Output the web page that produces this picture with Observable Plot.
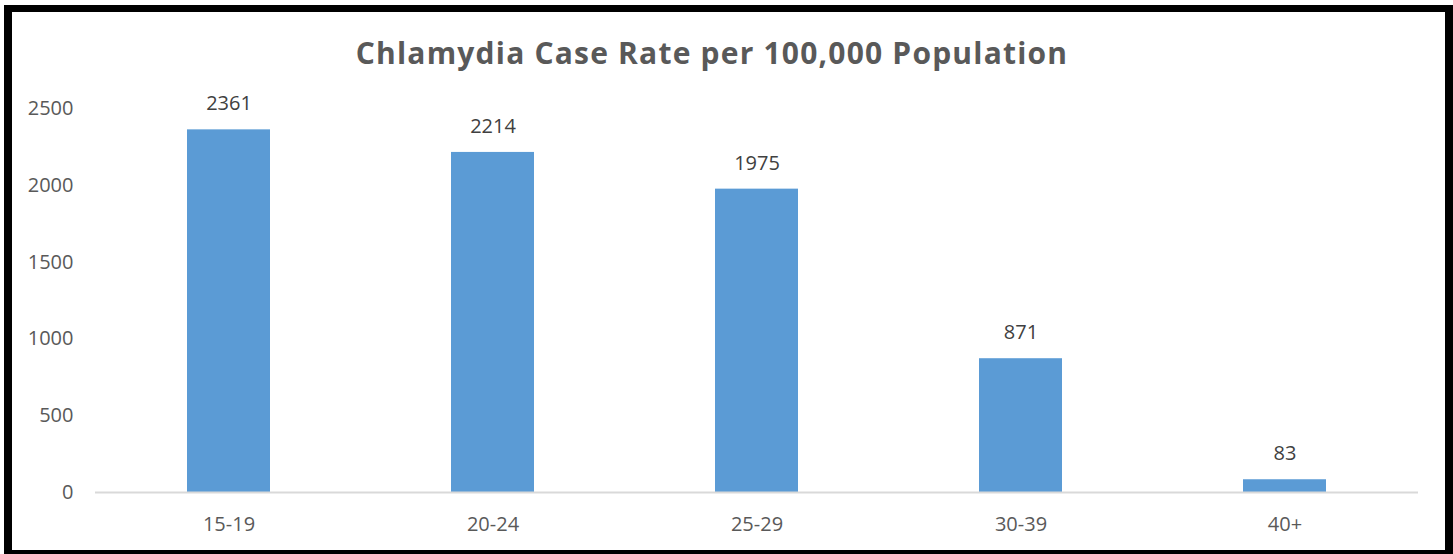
<!DOCTYPE html>
<html>
<head>
<meta charset="utf-8">
<script src="https://cdn.jsdelivr.net/npm/d3@7"></script>
<script src="https://cdn.jsdelivr.net/npm/@observablehq/plot@0.6"></script>
<style>
  html, body { margin: 0; padding: 0; background: #fff; width: 1453px; height: 554px; overflow: hidden; }
  #frame { position: absolute; left: 4px; top: 5px; width: 1449px; height: 549px; box-sizing: border-box;
    border-top: 7px solid #000; border-left: 8px solid #000; border-right: 8px solid #000; border-bottom: 4px solid #000; }
  #title { position: absolute; left: 12px; width: 1400px; top: 38px; text-align: center;
    font-family: "Open Sans", sans-serif; font-weight: bold; font-size: 30px; line-height: 30px; letter-spacing: 1.2px; color: #595959; }
  #chart { position: absolute; left: 12px; top: 12px; }
</style>
</head>
<body>
<div id="frame"></div>
<div id="title">Chlamydia Case Rate per 100,000 Population</div>
<div id="chart"></div>
<script>
const ageGroups = ["15-19", "20-24", "25-29", "30-39", "40+"];
const rates = [2361, 2214, 1975, 871, 83];
const yTicks = [0, 500, 1000, 1500, 2000, 2500];

const data = ageGroups.map((g, i) => ({group: g, rate: rates[i]}));

const chart = Plot.plot({
  width: 1433,
  height: 538,
  marginLeft: 83,
  marginRight: 27,
  marginTop: 96,
  marginBottom: 58,
  style: { fontFamily: "'Open Sans', sans-serif", fontSize: "20px", color: "#595959", background: "transparent" },
  x: { domain: ageGroups, paddingInner: 0.686, paddingOuter: 0.343, label: null, tickSize: 0, tickPadding: 24 },
  y: { domain: [0, 2500], ticks: yTicks, tickFormat: d => String(d), label: null, tickSize: 0, tickPadding: 22 },
  marks: [
    Plot.barY(data, { x: "group", y: "rate", fill: "#5B9BD5" }),
    Plot.ruleY([0], { stroke: "#D9D9D9", strokeWidth: 2 }),
    Plot.text(data, { x: "group", y: "rate", text: d => String(d.rate), dy: -26, fill: "#404040", fontSize: 20 })
  ]
});
document.getElementById("chart").appendChild(chart);
</script>
</body>
</html>
